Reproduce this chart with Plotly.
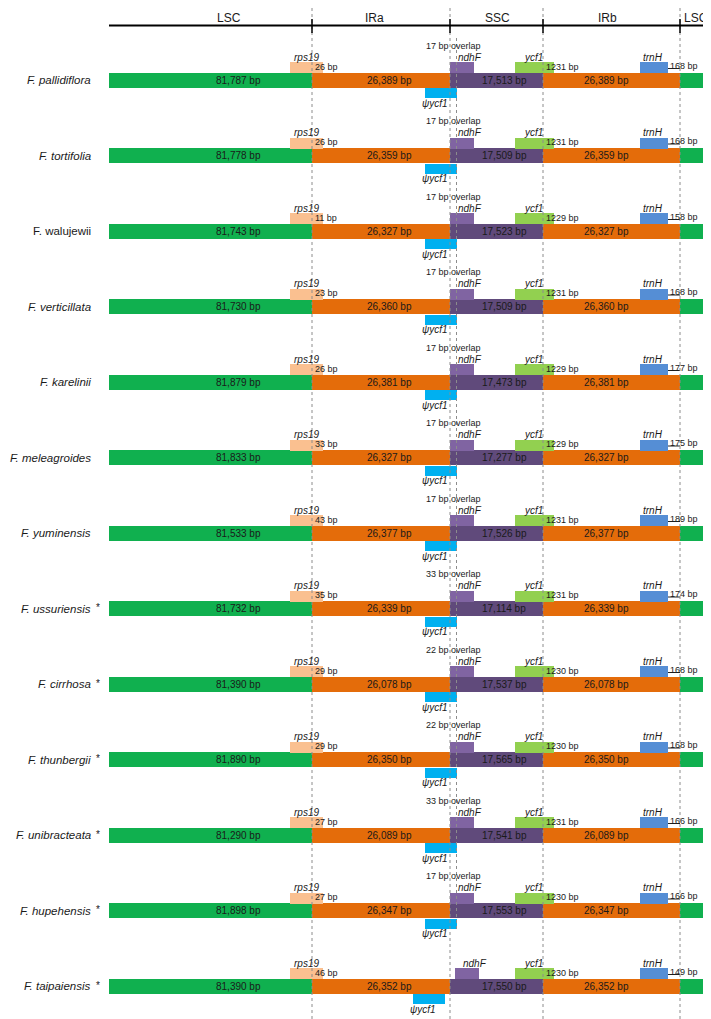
import plotly.graph_objects as go

# ---------------- data ----------------
species = ["F. pallidiflora", "F. tortifolia", "F. walujewii", "F. verticillata",
           "F. karelinii", "F. meleagroides", "F. yuminensis", "F. ussuriensis",
           "F. cirrhosa", "F. thunbergii", "F. unibracteata", "F. hupehensis",
           "F. taipaiensis"]
italic_name = [True, True, False, True, True, True, True, True, True, True, True, True, True]
starred = [False] * 7 + [True] * 6
regions = ["LSC", "IRa", "SSC", "IRb", "LSC"]
lsc_bp = [81787, 81778, 81743, 81730, 81879, 81833, 81533, 81732, 81390, 81890, 81290, 81898, 81390]
ira_bp = [26389, 26359, 26327, 26360, 26381, 26327, 26377, 26339, 26078, 26350, 26089, 26347, 26352]
ssc_bp = [17513, 17509, 17523, 17509, 17473, 17277, 17526, 17114, 17537, 17565, 17541, 17553, 17550]
irb_bp = [26389, 26359, 26327, 26360, 26381, 26327, 26377, 26339, 26078, 26350, 26089, 26347, 26352]
rps19_bp = [26, 26, 11, 23, 26, 33, 43, 35, 29, 29, 27, 27, 46]
overlap_bp = [17, 17, 17, 17, 17, 17, 17, 33, 22, 22, 33, 17, None]
ycf1_bp = [1231, 1231, 1229, 1231, 1229, 1229, 1231, 1231, 1230, 1230, 1231, 1230, 1230]
trnh_bp = [168, 168, 158, 168, 177, 175, 189, 174, 168, 168, 166, 166, 149]

# ---------------- layout constants (schematic positions) ----------------
W, H = 711, 1019
PAD = 8  # page body margin
X0, B1, B2, B3, B4, XEND = 109, 312, 450, 543, 680, 709
Y0, DY = 80, 75.5
ys = [Y0 + DY * i for i in range(len(species))]
n = len(species)

GREEN = "#10b04f"
ORANGE = "#e46c0a"
PURPLE = "#604a7b"
PEACH = "#fac090"
NDHF = "#8064a2"
YCF1 = "#92d050"
TRNH = "#558ed5"
PSI = "#00b0f0"
FONT = "Liberation Sans, Arial, sans-serif"
TXT = "#1a1a1a"

fig = go.Figure()


def hbar(yvals, start, end, color, width):
    fig.add_trace(go.Bar(
        y=yvals, x=[e - s for s, e in zip(start, end)], base=start,
        orientation="h", width=width, marker=dict(color=color, line_width=0),
        hoverinfo="skip", showlegend=False))


# genome region bars
for s, e, c in [(X0, B1, GREEN), (B1, B2, ORANGE), (B2, B3, PURPLE),
                (B3, B4, ORANGE), (B4, XEND, GREEN)]:
    hbar(ys, [s] * n, [e] * n, c, 15)

up = [y - 12.5 for y in ys]
down = [y + 13 for y in ys]
# rps19
hbar(up, [290] * n, [323] * n, PEACH, 11)
# ndhF
nd_start = [B2 if o else B2 + 5 for o in overlap_bp]
hbar(up, nd_start, [s + 23.5 for s in nd_start], NDHF, 11)
# ycf1
hbar(up, [515] * n, [554] * n, YCF1, 11)
# trnH
hbar(up, [640] * n, [668] * n, TRNH, 11)
# psi ycf1
psi_start = [425 if o else 413 for o in overlap_bp]
hbar(down, psi_start, [s + 32 for s in psi_start], PSI, 10)

# underline leaders for trnH gap
for y in ys:
    fig.add_trace(go.Scatter(x=[668, B4], y=[y - 11.5, y - 11.5], mode="lines",
                             line=dict(color="#222", width=1), hoverinfo="skip",
                             showlegend=False))

shapes = []
for xb in [B1, B2, B3, B4]:
    shapes.append(dict(type="line", xref="x", yref="y", x0=xb, x1=xb, y0=PAD, y1=H,
                       line=dict(color="#8c8c8c", width=1, dash="dot")))
# secondary dotted line at psi-ycf1 end for overlap rows
ov_rows = [y for y, o in zip(ys, overlap_bp) if o]
shapes.append(dict(type="line", xref="x", yref="y", x0=456.5, x1=456.5,
                   y0=ov_rows[0] - 42, y1=ov_rows[-1] + 20,
                   line=dict(color="#8c8c8c", width=1, dash="dot")))
# header axis
shapes.append(dict(type="line", xref="x", yref="y", x0=X0, x1=W, y0=25.5, y1=25.5,
                   line=dict(color="black", width=2)))
for xb in [B1, B2, B3, B4]:
    shapes.append(dict(type="line", xref="x", yref="y", x0=xb, x1=xb, y0=19, y1=33,
                       line=dict(color="black", width=1.5)))

ann = []


def txt(x, y, t, size=9, anchor="center", color=TXT):
    ann.append(dict(x=x, y=y, xref="x", yref="y", text=t, showarrow=False,
                    xanchor=anchor, yanchor="middle",
                    font=dict(family=FONT, size=size, color=color)))


for xc, lab in zip([229, 374, 497, 607, 696], regions):
    txt(xc, 18, lab, size=12)

for i, y in enumerate(ys):
    nm = f"<i>{species[i]}</i>" if italic_name[i] else species[i]
    txt(92.5, y, nm, size=11.5, anchor="right")
    if starred[i]:
        txt(94, y - 1, "*", size=10, anchor="left")
    txt(238, y, f"{lsc_bp[i]:,} bp", size=10)
    txt(389, y, f"{ira_bp[i]:,} bp", size=10)
    txt(504, y, f"{ssc_bp[i]:,} bp", size=10)
    txt(606, y, f"{irb_bp[i]:,} bp", size=10)
    txt(306, y - 23, "<i>rps19</i>", size=10)
    txt(312.5, y - 13.5, f"{rps19_bp[i]} bp", size=9, anchor="left")
    txt(nd_start[i] + 20, y - 23, "<i>ndhF</i>", size=10)
    txt(533, y - 23, "<i>ycf1</i>", size=10)
    txt(543.5, y - 13.5, f"{ycf1_bp[i]} bp", size=9, anchor="left")
    txt(653, y - 23, "<i>trnH</i>", size=10)
    txt(668, y - 14.5, f"{trnh_bp[i]} bp", size=9, anchor="left")
    txt(psi_start[i] + 10, y + 23, "<i>ψycf1</i>", size=10)
    if overlap_bp[i]:
        txt(453, y - 34.5, f"{overlap_bp[i]} bp overlap", size=9)

# the page has an 8px body margin: shrink the figure and shift axis ranges so
# that axis units coincide with window pixels
fig.update_layout(
    width=W - PAD, height=H - PAD, margin=dict(l=0, r=0, t=0, b=0),
    paper_bgcolor="white", plot_bgcolor="white", barmode="overlay",
    xaxis=dict(range=[PAD, W], visible=False, fixedrange=True),
    yaxis=dict(range=[H, PAD], visible=False, fixedrange=True),
    shapes=shapes, annotations=ann, showlegend=False, bargap=0)

fig.write_html("out.html")
